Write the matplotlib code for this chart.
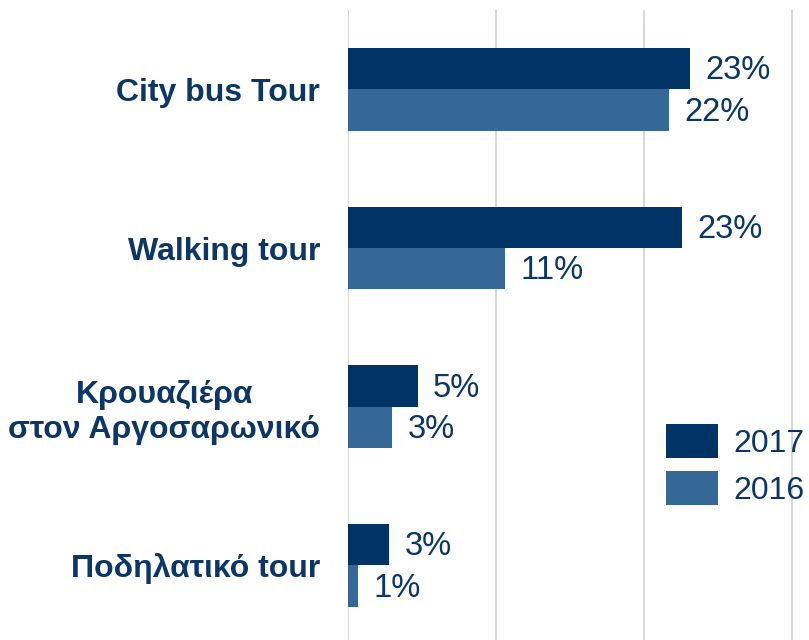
import matplotlib.pyplot as plt
import numpy as np

# Données
categories = ['City bus Tour', 'Walking tour', 'Κρουαζιέρα\nστον Αργοσαρωνικό', 'Ποδηλατικό tour']
values_2017 = [23.1, 22.6, 4.7, 2.8]
values_2016 = [21.7, 10.6, 3.0, 0.7]
series_labels = ['2017', '2016']

navy = '#003366'
blue = '#356897'
text_col = '#0B3666'

plt.rcParams['font.family'] = ['Liberation Sans', 'DejaVu Sans']

fig = plt.figure(figsize=(8.09, 6.4), dpi=100)
ax = fig.add_axes([348 / 809, 0, 1 - 348 / 809, 1 - 10 / 640])

y = np.arange(len(categories))
h = 0.26
b17 = ax.barh(y - h / 2, values_2017, height=h, color=navy, label=series_labels[0], zorder=3)
b16 = ax.barh(y + h / 2, values_2016, height=h, color=blue, label=series_labels[1], zorder=3)

# Étiquettes des valeurs
for bars, vals in [(b17, values_2017), (b16, values_2016)]:
    for bar, v in zip(bars, vals):
        ax.annotate(f'{round(v):.0f}%', (v, bar.get_y() + bar.get_height() / 2),
                    xytext=(11, -1.5), textcoords='offset points', va='center', ha='left',
                    fontsize=23.5, color=text_col)

ax.set_xlim(0, 31.15)
ax.set_ylim(3.47, -0.5)
ax.set_xticks([0, 10, 20, 30])
ax.grid(axis='x', color='#d9d9d9', linewidth=1.5, zorder=0)
ax.tick_params(axis='x', length=0, labelbottom=False)
ax.tick_params(axis='y', length=0, pad=20)
ax.set_yticks(y)
ax.set_yticklabels(categories, fontsize=23, fontweight='bold', color=text_col)
for lbl in ax.get_yticklabels():
    lbl.set_multialignment('center')
for s in ax.spines.values():
    s.set_visible(False)

leg = fig.legend(loc='upper left', bbox_to_anchor=(666 / 809, 1 - 424 / 640), frameon=False,
                 fontsize=23, handlelength=1.63, handleheight=1.25, handletextpad=0.49,
                 labelspacing=0.4, borderpad=0, borderaxespad=0)
for t in leg.get_texts():
    t.set_color(text_col)

fig.savefig('out.png', dpi=100)
